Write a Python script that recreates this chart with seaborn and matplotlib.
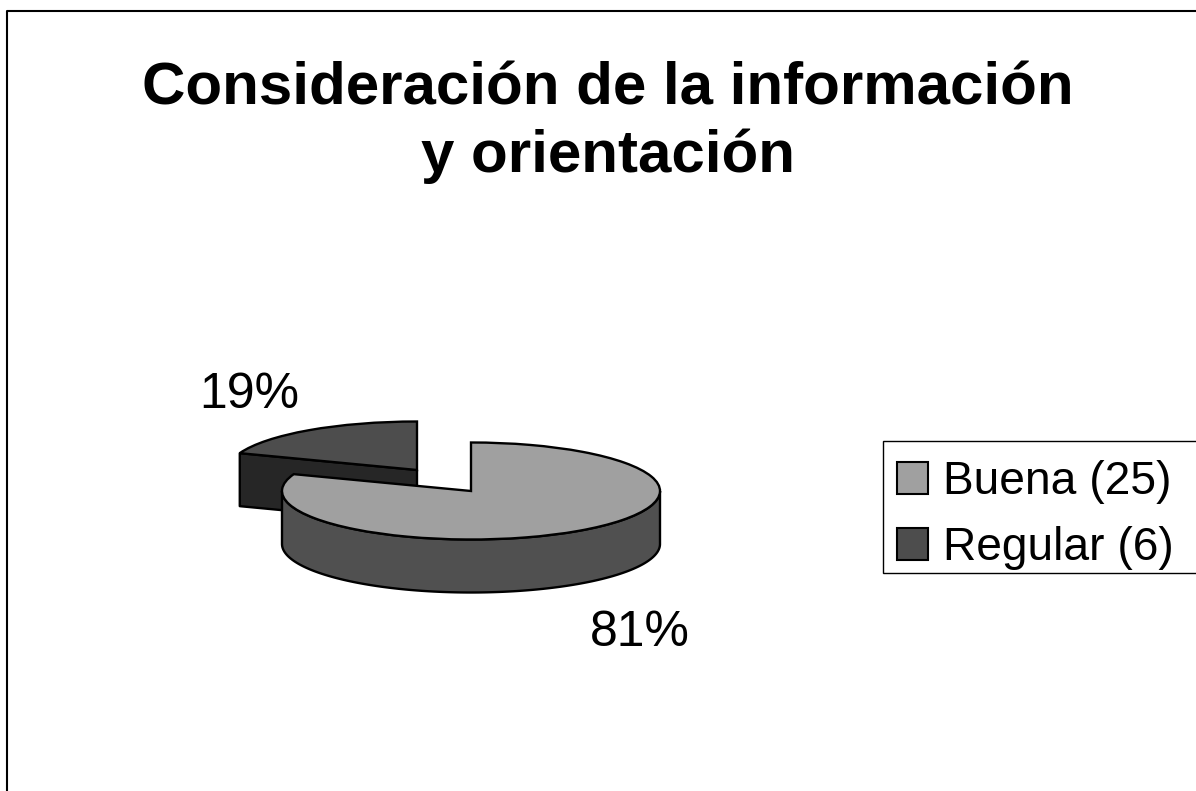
import numpy as np
import matplotlib
matplotlib.use("Agg")
import matplotlib.pyplot as plt
import seaborn as sns
from matplotlib.patches import Patch, Rectangle
from matplotlib.transforms import Affine2D

title = "Consideración de la información\ny orientación"
categories = ["Buena", "Regular"]
counts = [25, 6]

top_colors = ["#A0A0A0", "#4D4D4D"]
side_colors = ["#505050", "#262626"]

sns.set_theme(style="white")
plt.rcParams["font.family"] = ["Liberation Sans", "DejaVu Sans"]

W, H = 1196, 791
fig = plt.figure(figsize=(W / 100, H / 100), dpi=100)
ax = fig.add_axes([0, 0, 1, 1])

# pie geometry in pixels
rx, ry, depth = 189, 48.5, 53
centers = [(471, 491), (417, 470)]

shares = np.array(counts) / sum(counts)
# angle where the first slice ends, clockwise from 12 o'clock
end_angle = np.radians(90 - 360 * shares[0])


def ell(c, t):
    return c[0] + rx * np.cos(t), c[1] - ry * np.sin(t)


# small slice first: its cut face, then the top
c = centers[1]
ex, ey = ell(c, end_angle)
ax.fill([c[0], ex, ex, c[0]], [c[1], ey, ey + depth, c[1] + depth],
        facecolor=side_colors[1], edgecolor="black", lw=1.7, joinstyle="round", zorder=1)
small, _ = ax.pie(counts, startangle=90, counterclock=False,
                  colors=top_colors, wedgeprops={"edgecolor": "black", "linewidth": 1.7})
small[0].set_visible(False)
small[1].set_transform(Affine2D().scale(rx, -ry).translate(*c) + ax.transData)
small[1].set_zorder(2)

# big slice: outer wall, then the top
c = centers[0]
t = np.linspace(np.pi, 2 * np.pi, 200)
wx, wy = ell(c, t)
ax.fill(np.r_[wx, wx[::-1]], np.r_[wy, wy[::-1] + depth],
        facecolor=side_colors[0], edgecolor="black", lw=1.7, zorder=3)
big, _ = ax.pie(counts, startangle=90, counterclock=False,
                colors=top_colors, wedgeprops={"edgecolor": "black", "linewidth": 1.7})
big[1].set_visible(False)
big[0].set_transform(Affine2D().scale(rx, -ry).translate(*c) + ax.transData)
big[0].set_zorder(4)

ax.set_aspect("auto")
ax.set_xlim(0, W)
ax.set_ylim(H, 0)
ax.axis("off")

# percent labels
ax.text(640, 633, f"{shares[0] * 100:.0f}%", fontsize=36, ha="center", va="center", color="black")
ax.text(249.5, 395, f"{shares[1] * 100:.0f}%", fontsize=36, ha="center", va="center", color="black")

ax.text(608, 123, title, fontsize=43.2, fontweight="bold", ha="center", va="center",
        color="black", linespacing=1.27)

# chart frame only shows on the top and left
ax.plot([6.5, 6.5, W], [H, 10.5, 10.5], color="black", lw=1.5, clip_on=False, zorder=5)

# legend box runs off the right edge of the picture
ax.add_patch(Rectangle((882.5, 441), 330, 132, facecolor="white", edgecolor="black", lw=1, zorder=5))

handles = [Patch(facecolor=top_colors[i], edgecolor="black", lw=1.5,
                 label=f"{categories[i]} ({counts[i]})") for i in range(2)]
leg = ax.legend(handles=handles, loc="upper left", bbox_to_anchor=(884.5 / W, 1 - 448 / H),
                bbox_transform=ax.transAxes, prop={"size": 33.2, "family": "Liberation Sans"},
                labelcolor="black", frameon=False,
                borderaxespad=0, borderpad=0.27, handlelength=0.68, handleheight=0.68,
                handletextpad=0.31, labelspacing=0.47)
leg.set_zorder(6)

fig.savefig("out.png", dpi=100, facecolor="white")
